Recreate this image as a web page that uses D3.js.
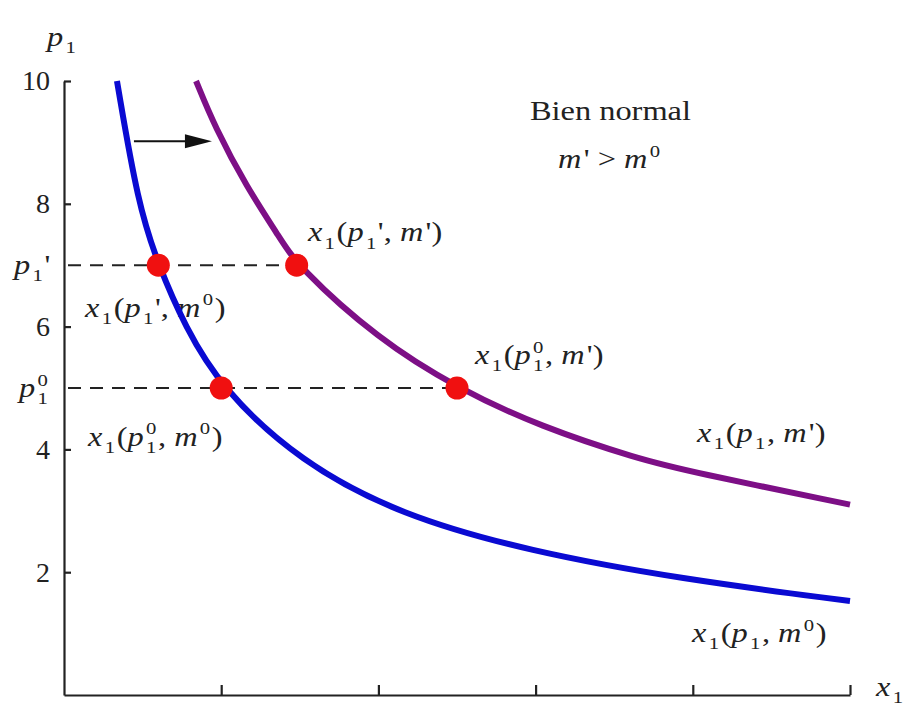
<!DOCTYPE html>
<html>
<head>
<meta charset="utf-8">
<script src="https://cdn.jsdelivr.net/npm/d3@7"></script>
<style>
  body { margin: 0; background: #ffffff; }
  svg text { font-family: "Liberation Serif", "Times New Roman", Times, serif; fill: #222; white-space: pre; }
</style>
</head>
<body>
<svg id="chart" width="909" height="706"></svg>
<script>
// ---- data -------------------------------------------------------------
const priceTicks = [2, 4, 6, 8, 10];
const quantityTicks = [1, 2, 3, 4, 5];
const priceLevels = [7, 5];                 // p1' and p1^0
const priceLevelNames = ["prime", "zero"];

// Demand curve x1(p1, m0)  -- [quantity, price]
const demandM0 = [
  [0.337, 10], [0.47, 8], [0.6, 7], [0.77, 6], [1.0, 5], [1.5, 3.8],
  [2.14, 2.93], [2.96, 2.34], [3.92, 1.89], [5.0, 1.53]
];
// Demand curve x1(p1, m')  -- [quantity, price]
const demandM1 = [
  [0.84, 10], [0.96, 9.25], [1.16, 8.28], [1.37, 7.46], [1.48, 7],
  [2.0, 5.79], [2.5, 5], [3.03, 4.37], [3.66, 3.84], [3.98, 3.64], [5.0, 3.1]
];
// Chosen bundles at each price / income pair
const choices = [[0.6, 7], [1.0, 5], [1.48, 7], [2.5, 5]];

// ---- layout -------------------------------------------------------------
const svg = d3.select("#chart");
const x = d3.scaleLinear().domain([0, 5]).range([64, 850]);
const y = d3.scaleLinear().domain([0, 10]).range([695, 81]);

const FS = 27;        // base font size
const SX = 1.2;       // horizontal stretch of the typeset labels
const ink = "#222";
const NB = "\u00a0";

// Typeset a small math expression made of tokens, left-aligned at (px, py baseline)
function mathText(parent, tokens, px, py, size) {
  const g = parent.append("g");
  let cx = 0;
  const small = size * 0.64;
  tokens.forEach(tk => {
    if (tk.s === "subsup") {
      const a = g.append("text").attr("x", cx).attr("y", size * 0.27)
        .attr("font-size", small).text(tk.t[0]);
      const b = g.append("text").attr("x", cx).attr("y", -size * 0.42)
        .attr("font-size", small).text(tk.t[1]);
      cx += Math.max(a.node().getComputedTextLength(), b.node().getComputedTextLength()) + size * 0.05;
      return;
    }
    const t = g.append("text").attr("x", cx).text(tk.t);
    if (tk.s === "i") t.attr("font-size", size).attr("font-style", "italic");
    else if (tk.s === "r") t.attr("font-size", size);
    else if (tk.s === "sub") t.attr("font-size", small).attr("y", size * 0.27);
    else if (tk.s === "sup") t.attr("font-size", small).attr("y", -size * 0.42);
    let gap = 0;
    if (tk.s === "i") gap = size * 0.07;
    if (tk.s === "sub" || tk.s === "sup") gap = size * 0.05;
    cx += t.node().getComputedTextLength() + gap;
  });
  g.attr("transform", `translate(${px},${py}) scale(${SX},1)`);
  return g;
}

const I = t => ({ t, s: "i" });
const R = t => ({ t, s: "r" });
const SUB = t => ({ t, s: "sub" });
const SUP = t => ({ t, s: "sup" });
const SUBSUP = (a, b) => ({ t: [a, b], s: "subsup" });

const pPrime = [I("p"), SUB("1"), R("'")];
const pZero = [I("p"), SUBSUP("1", "0")];
const pAny = [I("p"), SUB("1")];
const mZero = [I("m"), SUP("0")];
const mPrime = [I("m"), R("'")];
const demandLabel = (pt, mt) => [I("x"), SUB("1"), R("("), ...pt, R("," + NB), ...mt, R(")")];

// ---- annotations (under the curves) -------------------------------------
const labels = [
  { at: [0.134, 6.16], tokens: demandLabel(pPrime, mZero) },
  { at: [0.153, 4.06], tokens: demandLabel(pZero, mZero) },
  { at: [1.552, 7.39], tokens: demandLabel(pPrime, mPrime) },
  { at: [2.615, 5.39], tokens: demandLabel(pZero, mPrime) },
  { at: [4.027, 4.12], tokens: demandLabel(pAny, mPrime) },
  { at: [3.995, 0.86], tokens: demandLabel(pAny, mZero) },
  { at: [3.143, 8.58], tokens: [...mPrime, R(NB + ">" + NB), ...mZero] }
];
const annot = svg.append("g");
labels.forEach(l => mathText(annot, l.tokens, x(l.at[0]), y(l.at[1]), FS));

annot.append("text")
  .attr("transform", `translate(${x(2.964)},${y(9.365)}) scale(${SX},1)`)
  .attr("font-size", FS).text("Bien normal");

// ---- axes ---------------------------------------------------------------
const yAxis = svg.append("g")
  .attr("transform", `translate(${x(0)},0)`)
  .call(d3.axisLeft(y).tickValues(priceTicks).tickSize(-7).tickSizeOuter(0).tickPadding(14));
yAxis.attr("font-family", null);
yAxis.selectAll("text").attr("font-size", 28).attr("fill", ink);

const xAxis = svg.append("g")
  .attr("transform", `translate(0,${y(0)})`)
  .call(d3.axisBottom(x).tickValues(quantityTicks).tickSize(-10).tickSizeOuter(0).tickFormat(""));

svg.selectAll(".domain").attr("stroke", ink).attr("stroke-width", 2.2);
svg.selectAll(".tick line").attr("stroke", ink).attr("stroke-width", 2.2);

// special price labels on the vertical axis
mathText(svg, pPrime, 14, y(7) + 9, FS);
mathText(svg, pZero, 19, y(5) + 9, FS);

// axis titles
mathText(svg, pAny, 47, 46, FS);
mathText(svg, [I("x"), SUB("1")], 876, 696, FS);

// ---- dashed price lines --------------------------------------------------
const line = d3.line().x(d => x(d[0])).y(d => y(d[1]));
priceLevels.forEach((p, i) => {
  const reach = d3.max(choices.filter(c => c[1] === p), c => c[0]);
  svg.append("path")
    .attr("class", "price-" + priceLevelNames[i])
    .attr("d", line([[0, p], [reach, p]]))
    .attr("fill", "none").attr("stroke", ink).attr("stroke-width", 2)
    .attr("stroke-dasharray", "13,9")
    .attr("stroke-dashoffset", -4);
});

// ---- demand curves -------------------------------------------------------
const curve = d3.line().x(d => x(d[0])).y(d => y(d[1])).curve(d3.curveBasis);
svg.append("path").attr("d", curve(demandM0))
  .attr("fill", "none").attr("stroke", "#0a0ad2").attr("stroke-width", 6);
svg.append("path").attr("d", curve(demandM1))
  .attr("fill", "none").attr("stroke", "#7d0f86").attr("stroke-width", 6);

// ---- shift arrow ---------------------------------------------------------
const ax0 = x(0.445), ax1 = x(0.941), ay = y(9.02);
svg.append("line").attr("x1", ax0).attr("x2", ax1 - 16).attr("y1", ay).attr("y2", ay)
  .attr("stroke", "#111").attr("stroke-width", 2);
svg.append("path")
  .attr("d", `M${ax1},${ay} L${ax1 - 27},${ay - 7} L${ax1 - 27},${ay + 7} Z`)
  .attr("fill", "#111");

// ---- chosen bundles ------------------------------------------------------
svg.append("g").selectAll("circle").data(choices).join("circle")
  .attr("cx", d => x(d[0])).attr("cy", d => y(d[1])).attr("r", 11.5)
  .attr("fill", "#f01010");
</script>
</body>
</html>
